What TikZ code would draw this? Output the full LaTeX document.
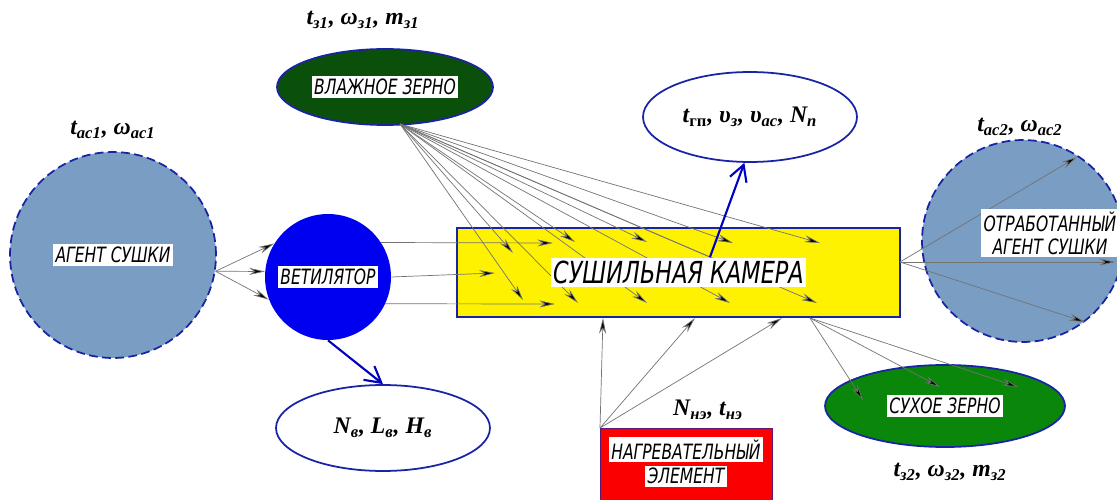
\documentclass[tikz,border=0pt]{standalone}
\usepackage{fontspec}
\setmainfont{Liberation Serif}
\newfontfamily\gost{DejaVuSansCondensed-Oblique.ttf}[FakeStretch=0.82]
\usetikzlibrary{shapes.geometric,arrows.meta}
\definecolor{agentfill}{RGB}{122,157,195}
\definecolor{edgeblue}{RGB}{25,35,165}
\definecolor{fanblue}{RGB}{0,0,240}
\definecolor{wetgreen}{RGB}{10,80,10}
\definecolor{drygreen}{RGB}{10,135,10}
\definecolor{heatred}{RGB}{250,0,0}
\newcommand{\tagbox}[1]{\colorbox{white}{\gost\fontsize{12}{14}\selectfont #1}}

\begin{document}
\begin{tikzpicture}[x=0.02cm,y=-0.02cm,
                    blob/.style={circle,draw=edgeblue,line width=1pt,dash pattern=on 5pt off 2.5pt,fill=agentfill,inner sep=0pt},
                    oval/.style={ellipse,draw=edgeblue,line width=1pt,inner sep=0pt},
                    prm/.style={font=\bfseries\itshape\fontsize{13.5}{16}\selectfont,inner sep=1pt},
                    flow/.style={draw=black!55,line width=0.4pt,-{Stealth[length=9pt,width=4pt,fill=black]}},
                    bflow/.style={draw=fanblue!80!black,line width=1.2pt,-{Straight Barb[length=9pt,width=10pt]}}]
  \useasboundingbox (0,0) rectangle (1117,500);
  \fboxsep=1.5pt
  % shapes
  \node[blob,minimum size=4.12cm] (agent) at (113,255) {\tagbox{АГЕНТ СУШКИ}};
  \node[blob,minimum size=4.04cm] (spent) at (1023,241) {};
  \node[circle,fill=fanblue,minimum size=2.52cm,inner sep=0pt] (fan) at (328,277) {\tagbox{ВЕТИЛЯТОР}};
  \node[oval,fill=wetgreen,minimum width=4.32cm,minimum height=1.52cm] (wet) at (385,87) {\tagbox{ВЛАЖНОЕ ЗЕРНО}};
  \node[oval,fill=drygreen,minimum width=4.8cm,minimum height=1.64cm] (dry) at (945,406) {};
  \node[oval,minimum width=4.28cm,minimum height=1.8cm,prm] (gp) at (750,117) {t\textsubscript{\upshape гп}, υ\textsubscript{з}, υ\textsubscript{ac}, N\textsubscript{п}};
  \node[oval,minimum width=4.28cm,minimum height=1.72cm,prm] (nv) at (383,428) {N\textsubscript{в}, L\textsubscript{в}, H\textsubscript{в}};
  \node[draw=edgeblue,line width=1pt,fill=yellow,minimum width=8.86cm,minimum height=1.78cm] (cam) at (678.5,272.5) {};
  \node[draw=edgeblue!70!red,line width=0.8pt,fill=heatred,minimum width=3.44cm,minimum height=1.8cm,anchor=north west] (heat) at (600,428) {};
  % parameters
  \node[prm] (pA) at (113,130) {t\textsubscript{ac1}, ω\textsubscript{ac1}};
  \node[prm] (pW) at (363,20) {t\textsubscript{з1}, ω\textsubscript{з1}, m\textsubscript{з1}};
  \node[prm] (pS) at (1020,127) {t\textsubscript{ac2}, ω\textsubscript{ac2}};
  \node[prm] (pH) at (708,410) {N\textsubscript{нэ}, t\textsubscript{нэ}};
  \node[prm] (pD) at (950,472) {t\textsubscript{з2}, ω\textsubscript{з2}, m\textsubscript{з2}};
  % grain to chamber
  \coordinate (wetO) at (400,124);
  \coordinate (camO) at (710,257);
  \draw[draw=black!55,line width=0.4pt] (wetO) -- (camO);
  \foreach \x/\y [count=\i] in {513/253,575/242,647/242,733/243,820/243,523/300,578/303,647/303,730/303,817/303}{
    \coordinate (w\i) at (\x,\y);
    \draw[flow] (wetO) -- (w\i);
  }
  % agent through fan
  \foreach \a in {148,175,201} \draw[flow] (agent.-9.5) -- (fan.\a);
  \foreach \a/\x/\y in {33/553/243,0/495/273,-25/555/304}{
    \coordinate (f\a) at (\x,\y);
    \draw[flow] (fan.\a) -- (f\a);
  }
  \draw[bflow] (fan.south) -- (nv.north);
  \draw[bflow] (camO) -- (gp.263);
  % spent agent
  \coordinate (camR) at (900,262);
  \foreach \x/\y [count=\i] in {1077/157,1115/262,1085/322}{
    \coordinate (s\i) at (\x,\y);
    \draw[flow] (camR) -- (s\i);
  }
  % dry grain
  \coordinate (camB) at (810,318);
  \foreach \x/\y [count=\i] in {863/400,940/387,1018/387}{
    \coordinate (d\i) at (\x,\y);
    \draw[flow] (camB) -- (d\i);
  }
  % heater
  \foreach \x [count=\i] in {603,695,782}{
    \coordinate (h\i) at (\x,318);
    \draw[flow] (heat.north west) -- (h\i);
  }
  % labels on top
  \node[fill=white,inner sep=1.5pt,font=\gost\LARGE] (camT) at (cam) {СУШИЛЬНАЯ КАМЕРА};
  \node[fill=white,inner sep=1.5pt,font=\gost\fontsize{12}{13}\selectfont,align=center] (spentT) at (1050,233) {ОТРАБОТАННЫЙ\\АГЕНТ СУШКИ};
  \node (dryT) at (dry) {\tagbox{СУХОЕ ЗЕРНО}};
  \node[align=center] (heatT) at (686,462) {\tagbox{НАГРЕВАТЕЛЬНЫЙ}\\[2pt]\tagbox{ЭЛЕМЕНТ}};
\end{tikzpicture}
\end{document}
